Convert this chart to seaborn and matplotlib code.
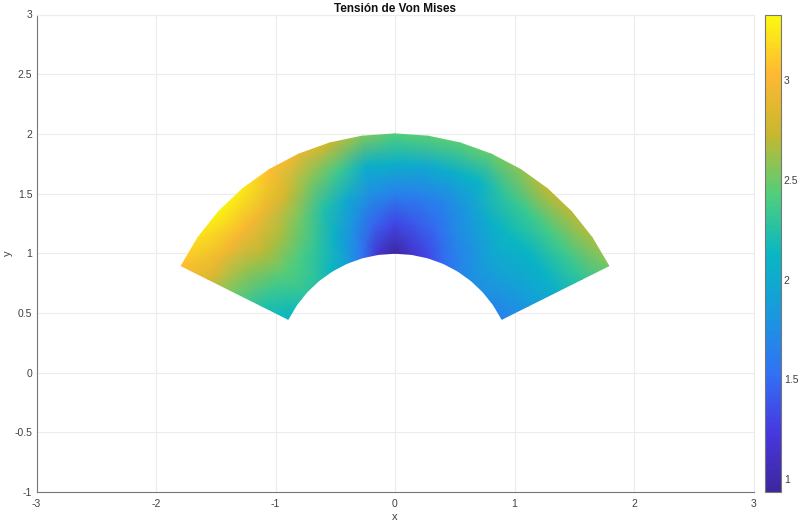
# -*- coding: utf-8 -*-
"""Von Mises stress over an annular sector."""

import numpy as np
import matplotlib.pyplot as plt
import seaborn as sns

radii = [1.0, 1.25, 1.5, 1.75, 2.0]
angles_deg = [153.43, 145.5, 137.57, 129.64, 121.71, 113.79, 105.86, 97.93, 90.0,
              82.07, 74.14, 66.21, 58.29, 50.36, 42.43, 34.5, 26.57]

# one row per angle, one column per radius
stress = [
    [2.10, 2.25, 2.50, 2.85, 3.05],
    [2.20, 2.35, 2.60, 2.95, 3.20],
    [2.30, 2.45, 2.70, 3.00, 3.30],
    [2.25, 2.40, 2.65, 2.95, 3.25],
    [2.10, 2.30, 2.50, 2.80, 3.05],
    [1.90, 2.05, 2.25, 2.55, 2.90],
    [1.55, 1.75, 2.00, 2.35, 2.75],
    [1.15, 1.45, 1.75, 2.05, 2.55],
    [0.95, 1.30, 1.65, 2.05, 2.42],
    [1.15, 1.40, 1.65, 2.00, 2.45],
    [1.30, 1.50, 1.70, 2.05, 2.45],
    [1.50, 1.70, 1.85, 2.10, 2.48],
    [1.65, 1.80, 2.05, 2.30, 2.58],
    [1.75, 1.95, 2.15, 2.35, 2.72],
    [1.75, 1.95, 2.10, 2.38, 2.70],
    [1.70, 1.90, 2.10, 2.35, 2.65],
    [1.65, 1.85, 2.05, 2.30, 2.52],
]

x_ticks = [-3, -2, -1, 0, 1, 2, 3]
y_ticks = [-1, -0.5, 0, 0.5, 1, 1.5, 2, 2.5, 3]
cbar_ticks = [1, 1.5, 2, 2.5, 3]
stress_min = 0.935
stress_max = 3.33

parula = [
    (0.24, 0.15, 0.62), (0.28, 0.22, 0.88), (0.19, 0.45, 0.96),
    (0.10, 0.60, 0.87), (0.03, 0.72, 0.76), (0.32, 0.81, 0.48),
    (0.78, 0.72, 0.18), (1.00, 0.72, 0.20), (0.98, 0.98, 0.06),
]

sns.set_theme(style="whitegrid")
plt.rcParams["font.family"] = ["Liberation Sans", "DejaVu Sans"]
plt.rcParams["axes.unicode_minus"] = False

W, H = 800, 524
fig = plt.figure(figsize=(W / 100, H / 100), dpi=100)
ax = fig.add_axes([36.5 / W, 1 - 492 / H, 717 / W, 477.5 / H])
cax = fig.add_axes([764.5 / W, 1 - 492 / H, 16.5 / W, 477.5 / H])

cmap = sns.blend_palette(parula, n_colors=256, as_cmap=True)

theta = np.radians(angles_deg)
r = np.array(radii)
X = np.outer(np.cos(theta), r)
Y = np.outer(np.sin(theta), r)
mesh = ax.pcolormesh(X, Y, np.array(stress), shading="gouraud", cmap=cmap,
                     vmin=stress_min, vmax=stress_max)

ax.set_xlim(-3, 3)
ax.set_ylim(-1, 3)
ax.set_xticks(x_ticks)
ax.set_xticklabels([f"{v:g}" for v in x_ticks])
ax.set_yticks(y_ticks)
ax.set_yticklabels([f"{v:g}" for v in y_ticks])
ax.set_axisbelow(True)
ax.grid(True, color="#ececec", linewidth=0.8)
ax.tick_params(direction="in", length=7, width=0.7, color="#777777",
               labelcolor="#404040", labelsize=7.5)
ax.tick_params(axis="x", pad=5)
ax.tick_params(axis="y", pad=3)
for side in ["left", "bottom"]:
    ax.spines[side].set_color("#777777")
    ax.spines[side].set_linewidth(0.8)
for side in ["top", "right"]:
    ax.spines[side].set_color("#ececec")
    ax.spines[side].set_linewidth(0.8)

ax.set_xlabel("x", fontsize=8, color="#404040", labelpad=2.5)
ax.set_ylabel("y", fontsize=8, color="#404040", labelpad=1)
ax.set_title("Tensión de Von Mises", fontsize=8.5, fontweight="bold", color="#111111", pad=2)

cbar = fig.colorbar(mesh, cax=cax)
cbar.set_ticks(cbar_ticks)
cbar.set_ticklabels([f"{v:g}" for v in cbar_ticks])
cbar.ax.tick_params(direction="in", length=4, width=0.7, color="#555555",
                    labelcolor="#404040", labelsize=7.5, pad=2)
cbar.outline.set_edgecolor("#777777")
cbar.outline.set_linewidth(0.8)

fig.savefig("out.png", dpi=100)
